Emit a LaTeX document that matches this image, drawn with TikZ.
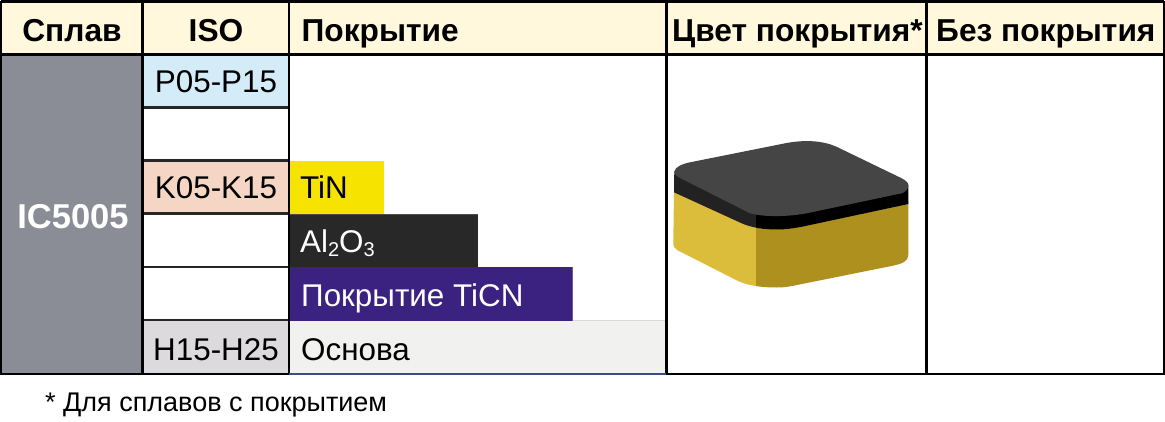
\documentclass[tikz,border=0pt]{standalone}
\usepackage{fontspec}
\setmainfont{Liberation Sans}
\newcommand{\hdrfont}{\fontsize{31.7}{34}\selectfont\bfseries}
\newcommand{\cellfont}{\fontsize{31.4}{34}\selectfont}
\definecolor{hdrbg}{HTML}{FFF8DC}
\definecolor{alloybg}{HTML}{8A8D96}
\definecolor{pbg}{HTML}{D4EBF8}
\definecolor{kbg}{HTML}{F5D5C4}
\definecolor{hbg}{HTML}{DCDADC}
\definecolor{tinc}{HTML}{F6E400}
\definecolor{alc}{HTML}{282828}
\definecolor{ticnc}{HTML}{3B2280}
\definecolor{basec}{HTML}{F1F1EF}
\definecolor{insL}{HTML}{DBBC3B}
\definecolor{insD}{HTML}{AE901E}
\definecolor{insT}{HTML}{454545}
\definecolor{insB}{HTML}{222222}
\definecolor{baseline}{HTML}{3A4F80}
\tikzset{
  gridline/.style={draw=black,line width=2.6pt},
  thinrow/.style={draw=black!85,line width=2.2pt},
  hdr/.style={font=\hdrfont,text=black,inner sep=0pt,anchor=base},
  cell/.style={font=\cellfont,text=black,inner sep=0pt,anchor=base},
  lcell/.style={cell,anchor=base west},
}
\newcommand{\bodyshape}{(674,190) -- (673.3,243) .. controls (673.3,247) and (675,249) .. (678,250.5)
  -- (738,281) .. controls (750,286.5) and (765,287.5) .. (776.7,287.5)
  .. controls (785,287.5) and (790,286.5) .. (797,285)
  -- (893,265.7) .. controls (903,263.5) and (908.3,261) .. (908.3,255) -- (908.3,202) -- cycle}
\newcommand{\bandshape}{(674.3,171) -- (674,192.3) -- (741,223) .. controls (752,228) and (765,229.5) .. (776.7,229.5)
  .. controls (787,229.5) and (795,228) .. (803,226.5) -- (908.3,204) -- (908.3,185) -- cycle}
\begin{document}
\begin{tikzpicture}[x=1pt,y=-1pt]
\useasboundingbox (0,0) rectangle (1165,422);
\fill[white] (0,0) rectangle (1165,422);
% backgrounds
\fill[hdrbg] (1,2) rectangle (1164,54);
\fill[alloybg] (1,54) rectangle (142.5,374);
\fill[pbg] (142.5,54) rectangle (289,107.5);
\fill[kbg] (142.5,160.5) rectangle (289,213.5);
\fill[hbg] (142.5,320) rectangle (289,374);
% coating layers
\fill[basec] (289.5,320) rectangle (666,373);
\fill[tinc] (289.5,161) rectangle (383.5,214);
\fill[alc] (289.5,214) rectangle (478,267);
\fill[ticnc] (289.5,267) rectangle (572.5,320.5);
\draw[draw=ticnc!75!white,line width=.7pt] (572.5,267) -- (572.5,320.5);
\draw[draw=black!70,line width=.8pt] (289.5,214.3) -- (478,214.3);
\draw[draw=basec!80!gray,line width=.5pt] (572.5,320.5) -- (666,320.5);
% rows
\foreach \yy in {107.5,160.5,213.5,267,320} \draw[thinrow] (142.5,\yy) -- (289,\yy);
% grid
\draw[gridline] (0,54.5) -- (1165,54.5);
\draw[gridline] (1,1.5) -- (1164,1.5);
\draw[gridline] (1,1.5) -- (1,374);
\draw[gridline] (1164,1.5) -- (1164,374);
\draw[gridline,line width=2.2pt] (142.5,1.5) -- (142.5,374);
\draw[gridline,line width=2.2pt] (289,1.5) -- (289,374);
\draw[gridline,line width=2.2pt] (666.5,1.5) -- (666.5,374);
\draw[gridline,line width=2.2pt] (926.5,1.5) -- (926.5,374);
\draw[gridline] (0,374) -- (289,374);
\draw[gridline] (666,374) -- (1165,374);
\draw[draw=baseline,line width=2pt] (289,374) -- (666,374);
% insert
\begin{scope}
  \clip (660,130) rectangle (756,300);
  \fill[insL] \bodyshape;
  \fill[insB] \bandshape;
\end{scope}
\begin{scope}
  \clip (756,130) rectangle (920,300);
  \fill[insD] \bodyshape;
  \fill[black] \bandshape;
\end{scope}
\fill[insT] (674.3,171.7) .. controls (675,167) and (682,164) .. (690,162.3)
  -- (786.7,143) .. controls (803,140) and (822,140) .. (837,147)
  -- (901.7,178.3) .. controls (906,180.5) and (908.3,183) .. (908.3,185)
  .. controls (908.3,189) and (905,192.5) .. (901.7,193.3)
  -- (806.7,213.3) .. controls (790,216.5) and (765,217.5) .. (750,213.3)
  -- (680,178) .. controls (677,176.5) and (674.3,174.5) .. (674.3,171.7) -- cycle;
% header text
\node[hdr] (hSplav) at (72,42) {Сплав};
\node[hdr] (hIso) at (216,42) {ISO};
\node[hdr,anchor=base west] (hCoat) at (301.5,42) {Покрытие};
\node[hdr,anchor=base west] (hColor) at (672,42) {Цвет покрытия*};
\node[hdr,anchor=base west] (hBare) at (936,42) {Без покрытия};
% body text
\node[hdr,text=white,font=\fontsize{34.5}{36}\selectfont\bfseries] (alloy) at (73,229) {IC5005};
\node[cell] (p) at (216,93) {P05-P15};
\node[cell] (k) at (216,199) {K05-K15};
\node[cell] (h) at (216,360) {H15-H25};
\node[lcell] (tin) at (300,199) {TiN};
\node[lcell,text=white] (alo) at (300,253) {Al\raisebox{-4pt}{\fontsize{20}{20}\selectfont 2}O\raisebox{-4pt}{\fontsize{20}{20}\selectfont 3}};
\node[lcell,text=white] (ticn) at (301,306) {Покрытие TiCN};
\node[lcell] (base) at (301,360) {Основа};
\node[lcell,font=\fontsize{27}{30}\selectfont] (note) at (45,411) {* Для сплавов с покрытием};
\end{tikzpicture}
\end{document}
